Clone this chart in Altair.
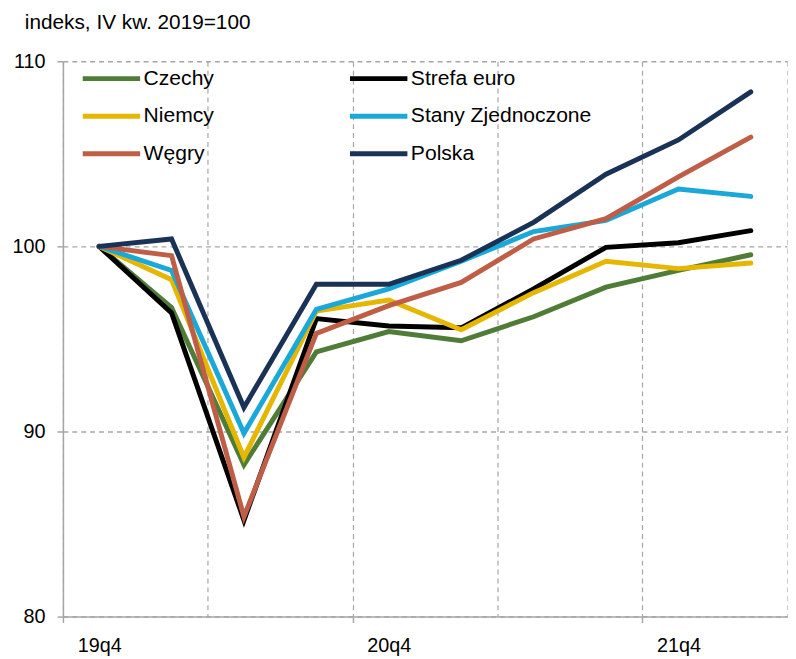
import json
import altair as alt
import pandas as pd

quarters = ['19q4', '20q1', '20q2', '20q3', '20q4', '21q1', '21q2', '21q3', '21q4', '22q1']
# drawing order (bottom to top)
series_names = ['Czechy', 'Strefa euro', 'Niemcy', 'Stany Zjednoczone', 'Węgry', 'Polska']
series_colors = ['#4F7D37', '#000000', '#E5B700', '#1AA8D8', '#BE5E46', '#1A3256']
series_widths = [5.0, 5.0, 5.0, 5.0, 5.0, 5.6]
# legend order (filled column by column)
legend_order = ['Czechy', 'Niemcy', 'Węgry', 'Strefa euro', 'Stany Zjednoczone', 'Polska']

czechy = [100.0, 96.7, 88.2, 94.3, 95.4, 94.9, 96.2, 97.8, 98.7, 99.55]
strefa_euro = [100.0, 96.4, 85.2, 96.1, 95.7, 95.6, 97.7, 99.95, 100.2, 100.85]
niemcy = [100.0, 98.2, 88.6, 96.5, 97.1, 95.5, 97.5, 99.2, 98.8, 99.1]
stany = [100.0, 98.7, 89.9, 96.6, 97.7, 99.2, 100.8, 101.4, 103.1, 102.7]
wegry = [100.0, 99.5, 85.4, 95.3, 96.8, 98.05, 100.4, 101.5, 103.75, 105.9]
polska = [100.0, 100.4, 91.3, 97.95, 97.95, 99.25, 101.3, 103.9, 105.75, 108.35]

y_ticks = [80, 90, 100, 110]
label_every = 4
title_text = 'indeks, IV kw. 2019=100'

values_by_series = [czechy, strefa_euro, niemcy, stany, wegry, polska]
rows = []
for name, vals in zip(series_names, values_by_series):
    for i, (q, v) in enumerate(zip(quarters, vals)):
        rows.append({'series': name, 'idx': i, 'quarter': q, 'value': v})
df = pd.DataFrame(rows)

color_map = dict(zip(series_names, series_colors))
width_map = dict(zip(series_names, series_widths))

n = len(quarters)
boundaries = [i - 0.5 for i in range(0, n + 1, 2)]
label_pos = list(range(0, n, label_every))
tick_pos = [p - 0.5 for p in label_pos]
x_values = sorted(set(boundaries + label_pos + tick_pos))

FONT = 'Liberation Sans, Arial, sans-serif'
GRID = '#A6A6A6'

labels_js = json.dumps(quarters)
tick_test = ' || '.join(f'datum.value == {p}' for p in tick_pos)

x_axis = alt.Axis(
    values=x_values,
    labelExpr=f"(datum.value % {label_every} === 0) ? {labels_js}[datum.value] : ''",
    grid=True,
    gridColor=GRID,
    gridDash=[5, 4],
    gridWidth=1.2,
    gridOpacity={'condition': {'test': 'datum.value % 1 === 0', 'value': 0}, 'value': 1},
    tickOpacity={'condition': {'test': tick_test, 'value': 1}, 'value': 0},
    tickColor=GRID,
    tickWidth=1.5,
    tickSize=6,
    domainColor=GRID,
    domainWidth=1.5,
    labelFont=FONT,
    labelFontSize=20,
    labelColor='#000000',
    labelPadding=13,
    labelAngle=0,
    labelFlush=False,
    labelOverlap=False,
    labelBound=False,
    title=None,
)

y_axis = alt.Axis(
    values=y_ticks,
    grid=True,
    gridColor=GRID,
    gridDash=[5, 4],
    gridWidth=1.5,
    tickColor=GRID,
    tickWidth=1.5,
    tickSize=6,
    domainColor=GRID,
    domainWidth=1.5,
    labelFont=FONT,
    labelFontSize=20,
    labelColor='#000000',
    labelPadding=12,
    labelFlush=False,
    title=title_text,
    titleFont=FONT,
    titleFontSize=21,
    titleFontWeight='normal',
    titleColor='#000000',
    titleAngle=0,
    titleAlign='left',
    titleBaseline='alphabetic',
    titleX=-39,
    titleY=-33.5,
)

legend = alt.Legend(
    title=None,
    orient='none',
    legendX=17.5,
    legendY=-1.5,
    columns=2,
    columnPadding=134,
    rowPadding=0,
    padding=0,
    clipHeight=38,
    symbolType='stroke',
    symbolSize=3364,
    symbolStrokeWidth=4.5,
    labelFont=FONT,
    labelFontSize=21.3,
    labelColor='#000000',
    labelOffset=1,
    labelLimit=400,
)

chart = alt.Chart(df).mark_line(strokeCap='round').encode(
    x=alt.X('idx:Q', scale=alt.Scale(domain=[-0.5, n - 0.5], nice=False, zero=False), axis=x_axis),
    y=alt.Y('value:Q', scale=alt.Scale(domain=[80, 110], nice=False, zero=False), axis=y_axis),
    color=alt.Color('series:N',
                    scale=alt.Scale(domain=legend_order, range=[color_map[s] for s in legend_order]),
                    legend=legend),
    strokeWidth=alt.StrokeWidth('series:N',
                                scale=alt.Scale(domain=legend_order, range=[width_map[s] for s in legend_order]),
                                legend=None),
    detail='series:N',
).properties(
    width=731.5,
    height=561,
    autosize=alt.AutoSizeParams(type='none'),
    padding={'left': 55.5, 'top': 50.5, 'right': 1, 'bottom': 38},
).configure_view(strokeWidth=0)

chart.save('out.html', embed_options={'renderer': 'svg', 'actions': False})
